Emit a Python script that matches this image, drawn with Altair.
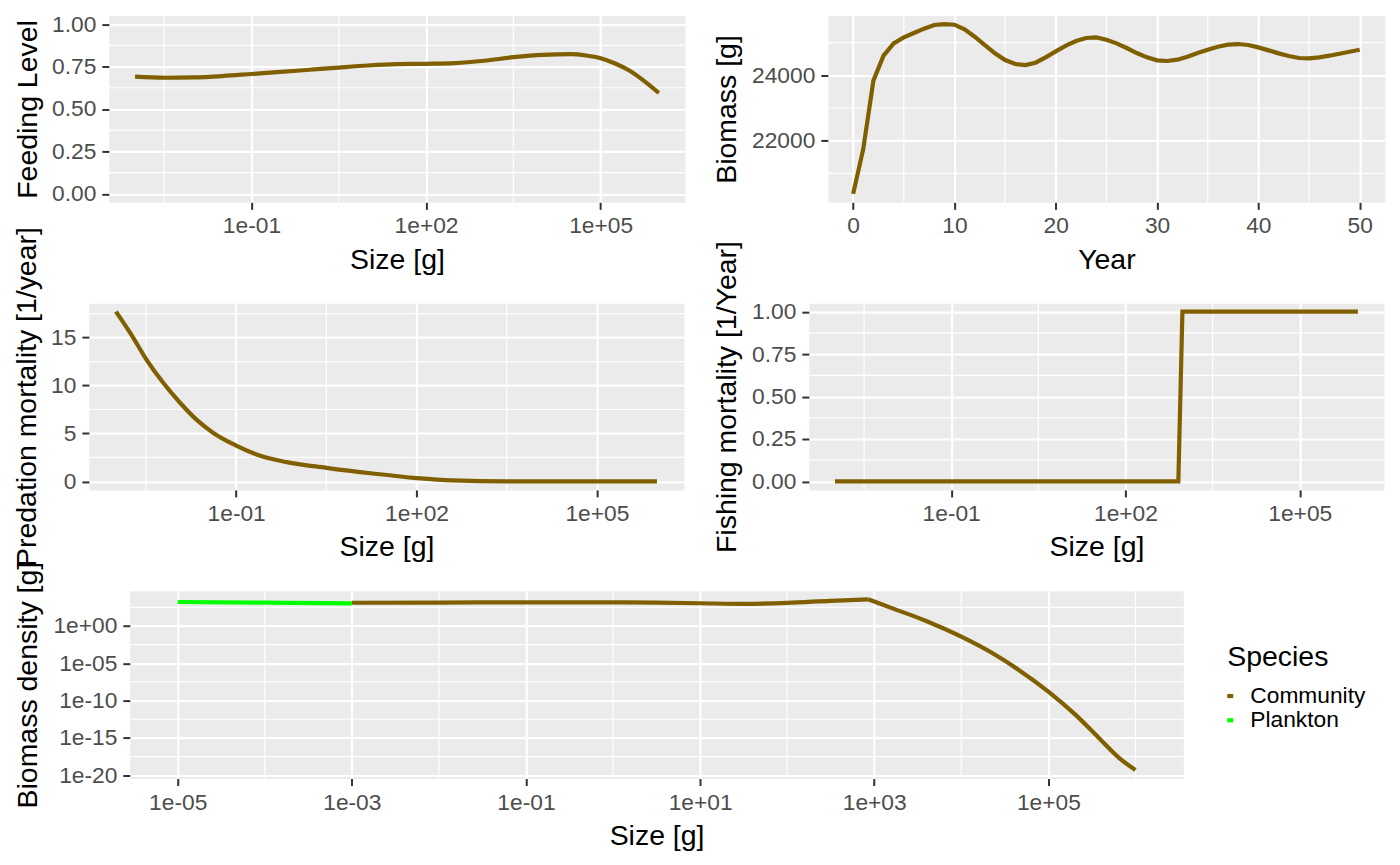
import math
import altair as alt
import pandas as pd

FONT = "Liberation Sans"
BROWN = "#805F00"
GREEN = "#00FF00"
PANEL_BG = "#EBEBEB"
TICK_FS = 22.8
TITLE_FS = 28.5
LINE_W = 4.2

# ---------------- data ----------------
FEED_LOG_SIZE = [-3.0, -2.5, -2.0, -1.5, -1.0, -0.5, 0.0, 0.5, 1.0, 1.5,
                 2.0, 2.5, 3.0, 3.5, 4.0, 4.5, 4.75, 5.0, 5.25, 5.5, 5.75, 6.0]
FEED_LEVEL = [0.690, 0.684, 0.686, 0.694, 0.706, 0.718, 0.731, 0.744, 0.756, 0.764,
              0.766, 0.770, 0.784, 0.805, 0.819, 0.823, 0.815, 0.799, 0.768, 0.725,
              0.664, 0.594]

YEARS = list(range(51))
BIOMASS = [20370, 21745, 23837, 24602, 24980, 25163, 25296, 25429, 25541, 25570,
           25551, 25408, 25184, 24929, 24673, 24469, 24347, 24316, 24388, 24551,
           24735, 24908, 25051, 25143, 25163, 25092, 24980, 24837, 24684, 24551,
           24459, 24439, 24480, 24571, 24684, 24786, 24878, 24939, 24959, 24929,
           24857, 24765, 24673, 24592, 24531, 24520, 24551, 24602, 24663, 24724,
           24786]

PRED_LOG_SIZE = [-3.0, -2.76, -2.49, -2.21, -1.93, -1.66, -1.38, -1.0, -0.61, -0.16,
                 0.5, 1.27, 2.0, 2.6, 3.48, 4.5, 6.0]
PRED_MORT = [17.7, 15.46, 12.68, 10.26, 8.18, 6.44, 5.06, 3.74, 2.70, 2.01,
             1.42, 0.83, 0.35, 0.10, 0.0, 0.0, 0.0]

FISH_LOG_SIZE = [-3.0, 2.91, 2.98, 6.0]
FISH_MORT = [0.0, 0.0, 1.0, 1.0]

PLANK_LOG_SIZE = [-5.0, -4.0, -3.0]
PLANK_DENS = [1.66e3, 1.35e3, 1.1e3]
# community: plateau up to the peak, then the steep decline
COMM_FLAT_LOG_SIZE = [-3.0, -2.0, -1.0, 0.0, 0.5, 1.0, 1.5, 2.0, 2.5, 2.93]
COMM_FLAT_DENS = [1.32e3, 1.4e3, 1.48e3, 1.48e3, 1.35e3, 1.12e3, 9.3e2, 1.25e3, 2.4e3, 3.8e3]
COMM_DROP_LOG_SIZE = [2.93, 3.21, 3.59, 4.0, 4.36, 4.66, 5.0, 5.31, 5.58, 5.84, 6.0]
COMM_DROP_DENS = [3.8e3, 2.3e2, 5.1e0, 3.7e-2, 2.2e-4, 1.3e-6, 1.6e-9, 1.3e-12, 1.0e-15,
                  1.1e-18, 5.0e-20]

SPECIES = ["Community", "Plankton"]
SPECIES_COLORS = [BROWN, GREEN]

# ticks
SIZE_TICKS = [1e-1, 1e2, 1e5]
SIZE_TICK_LABELS = ["1e-01", "1e+02", "1e+05"]
SIZE_MINOR = [10 ** -2.5, 10 ** 0.5, 10 ** 3.5]
FRAC_TICKS = [0.0, 0.25, 0.5, 0.75, 1.0]
FRAC_MINOR = [0.125, 0.375, 0.625, 0.875]
YEAR_TICKS = [0, 10, 20, 30, 40, 50]
YEAR_MINOR = [5, 15, 25, 35, 45]
BIOMASS_TICKS = [22000, 24000]
BIOMASS_MINOR = [21000, 23000, 25000]
PRED_TICKS = [0, 5, 10, 15]
PRED_MINOR = [2.5, 7.5, 12.5, 17.5]
BD_X_TICKS = [1e-5, 1e-3, 1e-1, 1e1, 1e3, 1e5]
BD_X_LABELS = ["1e-05", "1e-03", "1e-01", "1e+01", "1e+03", "1e+05"]
BD_X_MINOR = [1e-4, 1e-2, 1e0, 1e2, 1e4, 1e6]
BD_Y_TICKS = [1e0, 1e-5, 1e-10, 1e-15, 1e-20]
BD_Y_LABELS = ["1e+00", "1e-05", "1e-10", "1e-15", "1e-20"]
BD_Y_MINOR = [10 ** 2.5, 10 ** -2.5, 10 ** -7.5, 10 ** -12.5, 10 ** -17.5]


def expand(vals, log=False, mult=0.05):
    v = [math.log10(x) for x in vals] if log else list(vals)
    lo, hi = min(v), max(v)
    d = (hi - lo) * mult
    lo, hi = lo - d, hi + d
    return [10 ** lo, 10 ** hi] if log else [lo, hi]


def label_expr(values, labels):
    parts = [f"datum.value == {v!r} ? '{l}'" for v, l in zip(values, labels)]
    return " : ".join(parts) + " : ''"


def xaxis(values, title, labels=None, fmt=None):
    kw = dict(values=values, title=title, titleY=66, titleBaseline="alphabetic",
              labelPadding=5.6, labelBaseline="top")
    if labels:
        kw["labelExpr"] = label_expr(values, labels)
    if fmt:
        kw["format"] = fmt
    return alt.Axis(**kw)


def yaxis(values, title, tx, labels=None, fmt=None):
    kw = dict(values=values, title=title, titleX=tx, titleAngle=270,
              titleBaseline="alphabetic", labelPadding=6)
    if labels:
        kw["labelExpr"] = label_expr(values, labels)
    if fmt:
        kw["format"] = fmt
    return alt.Axis(**kw)


def panel(df, xf, yf, xscale, yscale, xax, yax, xminor, yminor, w, h,
          color, interp="linear", detail=None):
    enc = dict(
        x=alt.X(f"{xf}:Q", scale=xscale, axis=xax),
        y=alt.Y(f"{yf}:Q", scale=yscale, axis=yax),
        color=color,
    )
    if detail:
        enc["detail"] = alt.Detail(f"{detail}:N")
    layers = [
        alt.Chart(pd.DataFrame({xf: xminor})).mark_rule(color="white", strokeWidth=1.2)
        .encode(x=alt.X(f"{xf}:Q", scale=xscale, axis=xax)),
        alt.Chart(pd.DataFrame({yf: yminor})).mark_rule(color="white", strokeWidth=1.2)
        .encode(y=alt.Y(f"{yf}:Q", scale=yscale, axis=yax)),
        alt.Chart(df).mark_line(strokeWidth=LINE_W, interpolate=interp).encode(**enc),
    ]
    return alt.layer(*layers).properties(
        width=w, height=h, view=alt.ViewBackground(fill=PANEL_BG, stroke="transparent")
    )


def spacer(w, h):
    return alt.Chart(pd.DataFrame({"s": [0]})).mark_rect(opacity=0).encode(
        x=alt.value(0), x2=alt.value(w), y=alt.value(0), y2=alt.value(h)
    ).properties(width=w, height=h)


# ---------------- panels ----------------
size_dom = expand([10 ** min(FEED_LOG_SIZE), 10 ** max(FEED_LOG_SIZE)], log=True)
size_scale = alt.Scale(type="log", domain=size_dom, nice=False)

feed_df = pd.DataFrame({"size": [10 ** e for e in FEED_LOG_SIZE], "level": FEED_LEVEL})
p1 = panel(
    feed_df, "size", "level", size_scale,
    alt.Scale(domain=expand([0, 1]), nice=False, zero=False),
    xaxis(SIZE_TICKS, "Size [g]", labels=SIZE_TICK_LABELS),
    yaxis(FRAC_TICKS, "Feeding Level", -72.3, fmt=".2f"),
    SIZE_MINOR, FRAC_MINOR, 577, 187, alt.value(BROWN), "monotone",
)

bio_df = pd.DataFrame({"year": YEARS, "biomass": BIOMASS})
p2 = panel(
    bio_df, "year", "biomass",
    alt.Scale(domain=expand(YEARS), nice=False, zero=False),
    alt.Scale(domain=expand(BIOMASS), nice=False, zero=False),
    xaxis(YEAR_TICKS, "Year", fmt="d"),
    yaxis(BIOMASS_TICKS, "Biomass [g]", -92, fmt="d"),
    YEAR_MINOR, BIOMASS_MINOR, 558, 187, alt.value(BROWN), "linear",
)

pred_df = pd.DataFrame({"size": [10 ** e for e in PRED_LOG_SIZE], "mort": PRED_MORT})
p3 = panel(
    pred_df, "size", "mort", size_scale,
    alt.Scale(domain=expand(PRED_MORT), nice=False, zero=False),
    xaxis(SIZE_TICKS, "Size [g]", labels=SIZE_TICK_LABELS),
    yaxis(PRED_TICKS, "Predation mortality [1/year]", -53, fmt="d"),
    SIZE_MINOR, PRED_MINOR, 596, 187, alt.value(BROWN), "monotone",
)

fish_df = pd.DataFrame({"size": [10 ** e for e in FISH_LOG_SIZE], "fmort": FISH_MORT})
p4 = panel(
    fish_df, "size", "fmort", size_scale,
    alt.Scale(domain=expand([0, 1]), nice=False, zero=False),
    xaxis(SIZE_TICKS, "Size [g]", labels=SIZE_TICK_LABELS),
    yaxis(FRAC_TICKS, "Fishing mortality [1/Year]", -73.5, fmt=".2f"),
    SIZE_MINOR, FRAC_MINOR, 576, 187, alt.value(BROWN), "linear",
)

bd_df = pd.concat([
    pd.DataFrame({"size": [10 ** e for e in PLANK_LOG_SIZE], "dens": PLANK_DENS,
                  "Species": "Plankton", "seg": "p"}),
    pd.DataFrame({"size": [10 ** e for e in COMM_FLAT_LOG_SIZE], "dens": COMM_FLAT_DENS,
                  "Species": "Community", "seg": "c1"}),
    pd.DataFrame({"size": [10 ** e for e in COMM_DROP_LOG_SIZE], "dens": COMM_DROP_DENS,
                  "Species": "Community", "seg": "c2"}),
], ignore_index=True)
all_dens = PLANK_DENS + COMM_FLAT_DENS + COMM_DROP_DENS
bd_x_dom = expand([10 ** min(PLANK_LOG_SIZE), 10 ** max(COMM_DROP_LOG_SIZE)], log=True)
bd_y_dom = expand(all_dens, log=True)
legend = alt.Legend(
    orient="none", legendX=1221, legendY=628, title="Species",
    titleFont=FONT, titleFontSize=TITLE_FS, titleFontWeight="normal", titleColor="black",
    titlePadding=13.5, labelFont=FONT, labelFontSize=TICK_FS, labelColor="black",
    labelOffset=8.7, symbolOffset=-8.4, symbolType="stroke", symbolSize=36,
    symbolStrokeWidth=LINE_W, rowPadding=0.3, padding=0,
)
p5 = panel(
    bd_df, "size", "dens",
    alt.Scale(type="log", domain=bd_x_dom, nice=False),
    alt.Scale(type="log", domain=bd_y_dom, nice=False),
    xaxis(BD_X_TICKS, "Size [g]", labels=BD_X_LABELS),
    yaxis(BD_Y_TICKS, "Biomass density [g]", -93.3, labels=BD_Y_LABELS),
    BD_X_MINOR, BD_Y_MINOR, 1055, 188,
    alt.Color("Species:N", scale=alt.Scale(domain=SPECIES, range=SPECIES_COLORS),
              legend=legend),
    "monotone", detail="seg",
)

row1 = alt.hconcat(spacer(100.3, 187), p1, spacer(142.7, 187), p2,
                   spacing=0, bounds="flush")
row2 = alt.hconcat(spacer(81, 187), p3, spacer(124.5, 187), p4,
                   spacing=0, bounds="flush")
row3 = alt.hconcat(spacer(121.3, 188), p5, spacing=0, bounds="flush")

chart = alt.vconcat(
    row1, row2, row3, spacing=288, bounds="flush"
).properties(
    padding={"left": 0, "top": 4, "right": 5, "bottom": 5}
).configure_view(
    stroke=None
).configure_axis(
    domain=False, grid=True, gridColor="white", gridWidth=2.2,
    tickColor="#333333", tickSize=7, tickWidth=2,
    labelColor="#4D4D4D", labelFont=FONT, labelFontSize=TICK_FS,
    titleFont=FONT, titleFontSize=TITLE_FS, titleFontWeight="normal", titleColor="black",
    labelFlush=False, labelOverlap=False,
)

chart.save("out.html", embed_options={"renderer": "svg", "actions": False})
